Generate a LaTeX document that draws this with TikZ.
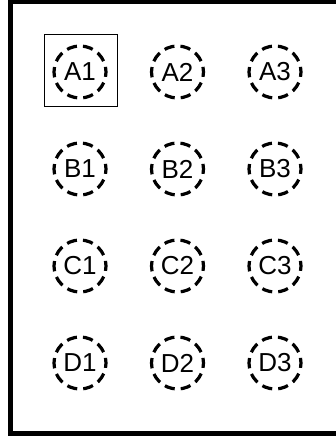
\documentclass[tikz,border=0pt]{standalone}
\usepackage{fontspec}
\setmainfont{Liberation Sans}
\begin{document}
\begin{tikzpicture}[x=1pt,y=-1pt,
  pin/.style={circle,draw=black,line width=3.2pt,dash pattern=on 10.3pt off 6.04pt,dash phase=5.15pt,
    minimum size=52pt,inner sep=0pt,font={\fontsize{26}{28}\selectfont}},
  selbox/.style={draw=black,line width=0.9pt,minimum width=73pt,minimum height=72pt,inner sep=0pt}]
\useasboundingbox (0,0) rectangle (336,436);
\clip (0,0) rectangle (336,436);
\draw[line width=5pt] (10.5,1.5) rectangle (350,433.5);
\foreach \r/\y in {A/72,B/169,C/266,D/363}{
  \foreach \c/\x in {1/80,2/177.5,3/275}{
    \node[pin] (\r\c) at (\x,\y) {\r\c};
  }
}
\node[selbox] (sel) at (80.5,70) {};
\end{tikzpicture}
\end{document}
